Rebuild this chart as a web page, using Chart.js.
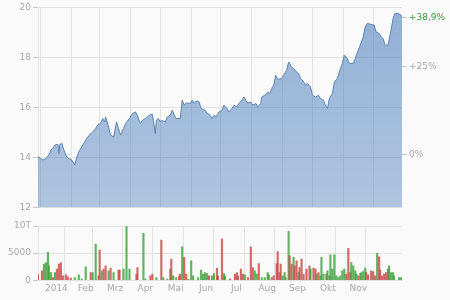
<!DOCTYPE html>
<html>
<head>
<meta charset="utf-8">
<script src="https://cdn.jsdelivr.net/npm/chart.js"></script>
<style>
  html, body { margin: 0; padding: 0; background: #fafafa; }
  #wrap { position: relative; width: 450px; height: 300px; overflow: hidden; }
  canvas { position: absolute; left: 0; }
  #price { top: 0; }
  #volume { top: 212px; }
</style>
</head>
<body>
<div id="wrap">
  <canvas id="price" width="450" height="215"></canvas>
  <canvas id="volume" width="450" height="88"></canvas>
</div>
<script>
// x values are days counted from 1 Jan 2014
const monthStarts = [0, 31, 59, 90, 120, 151, 181, 212, 243, 273, 304, 334];
const monthLabels = ['2014', 'Feb', 'Mrz', 'Apr', 'Mai', 'Jun', 'Jul', 'Aug', 'Sep', 'Okt', 'Nov'];

const priceDays = [-3, 2, 5, 8, 10, 12, 14, 17, 18, 19, 21, 23, 26, 28, 31, 34, 36, 38, 42, 45,
  49, 52, 55, 57, 60, 62, 64, 65, 68, 70, 73, 75, 76, 78, 80, 83, 85, 89, 92, 95,
  97, 99, 100, 102, 105, 109, 112, 113, 115, 116, 118, 120, 121, 125, 127, 130, 132, 134, 136, 140,
  142, 144, 146, 150, 152, 154, 156, 159, 161, 165, 167, 170, 172, 174, 176, 179, 182, 184, 187, 189,
  192, 194, 197, 199, 202, 204, 206, 208, 211, 213, 216, 218, 221, 222, 225, 228, 230, 232, 234, 236,
  238, 242, 245, 247, 249, 252, 254, 257, 259, 261, 263, 266, 268, 271, 273, 276, 279, 281, 284, 286,
  288, 290, 293, 295, 298, 300, 303, 305, 308, 310, 314, 316, 319, 321, 324, 326, 328, 332, 335, 337,
  340, 342, 344, 346, 349, 352, 354, 356, 359, 362, 363];
const prices = [14.04, 13.90, 13.96, 14.10, 14.30, 14.36, 14.50, 14.53, 14.16, 14.53, 14.56, 14.30, 14.02, 13.96, 13.90, 13.70, 14.02, 14.22, 14.50, 14.70,
  14.92, 15.02, 15.16, 15.30, 15.36, 15.56, 15.42, 15.62, 15.22, 14.90, 14.82, 15.22, 15.42, 15.16, 14.90, 15.16, 15.36, 15.56, 15.76, 15.82,
  15.69, 15.42, 15.36, 15.49, 15.56, 15.69, 15.73, 15.49, 14.96, 15.49, 15.56, 15.42, 15.49, 15.42, 15.62, 15.69, 15.89, 15.69, 15.56, 15.56,
  16.29, 16.09, 16.18, 16.16, 16.29, 16.16, 16.26, 16.22, 15.96, 15.89, 15.78, 15.69, 15.56, 15.69, 15.62, 15.82, 15.89, 16.09, 15.96, 15.82,
  15.96, 16.09, 16.02, 16.16, 16.29, 16.42, 16.29, 16.18, 16.22, 16.09, 16.16, 16.02, 16.16, 16.42, 16.49, 16.62, 16.56, 16.76, 16.89, 17.29,
  17.12, 17.16, 17.36, 17.49, 17.82, 17.62, 17.56, 17.42, 17.36, 17.16, 17.09, 16.89, 16.96, 16.82, 16.49, 16.42, 16.49, 16.36, 16.29, 16.09,
  15.96, 16.36, 16.56, 17.02, 17.16, 17.42, 17.76, 18.09, 17.96, 17.76, 17.76, 17.96, 18.29, 18.49, 18.82, 19.22, 19.36, 19.32, 19.29, 19.02,
  18.96, 18.82, 18.76, 18.49, 18.49, 19.09, 19.56, 19.76, 19.76, 19.69, 19.61];
const refPrice = 14.12;

const volumeDays = [-3, 1, 3, 5, 7, 8, 10, 12, 14, 16, 18, 20, 22, 25, 27, 30, 34, 38, 41, 45,
  50, 52, 55, 58, 59, 61, 63, 65, 68, 70, 73, 78, 79, 83, 86, 89, 96, 97, 103, 105,
  110, 112, 116, 121, 123, 127, 130, 131, 133, 136, 139, 140, 142, 144, 146, 148, 151, 153, 158, 161,
  163, 165, 167, 169, 172, 174, 177, 178, 182, 184, 185, 190, 195, 197, 198, 201, 203, 205, 208, 211,
  213, 215, 217, 219, 222, 225, 228, 229, 232, 234, 237, 238, 240, 241, 243, 245, 246, 249, 250, 252,
  254, 255, 257, 259, 260, 262, 264, 267, 270, 271, 274, 276, 277, 279, 281, 282, 284, 287, 288, 290,
  291, 293, 295, 297, 299, 301, 303, 305, 307, 309, 311, 312, 314, 316, 317, 319, 321, 322, 324, 326,
  327, 329, 332, 334, 336, 338, 340, 341, 343, 345, 347, 349, 350, 352, 354, 355, 360, 362];
const volumes = [990, 1730, 2960, 3270, 5120, 2650, 1420, 500, 1420, 2040, 2960, 3270, 800, 990, 620, 370, 490, 990, 185, 2470,
  1420, 1420, 6660, 800, 5550, 1730, 2040, 2650, 1730, 2220, 1420, 1850, 1850, 2040, 9870, 2040, 1110, 2340, 8640, 185,
  800, 1110, 500, 7400, 500, 185, 2040, 3890, 800, 500, 800, 1110, 6170, 4200, 1110, 185, 3580, 800, 500, 1850,
  1110, 1420, 1230, 800, 800, 1230, 2220, 800, 7590, 1230, 800, 185, 1110, 1420, 800, 2040, 1110, 990, 500, 6170,
  2340, 1730, 1110, 3080, 500, 500, 1420, 990, 500, 800, 3080, 5300, 1420, 2960, 800, 1420, 500, 9000, 4500, 2960,
  4200, 2650, 3580, 1420, 2340, 3890, 1110, 2040, 2650, 2040, 2220, 2040, 1110, 1420, 800, 4200, 1110, 1110, 1730, 800,
  4690, 2040, 4690, 800, 500, 800, 1730, 2040, 1110, 5860, 1420, 3270, 2650, 1730, 1110, 800, 1230, 1420, 1600, 2220,
  1420, 990, 1730, 1600, 800, 4940, 4320, 1850, 800, 1110, 1420, 2040, 2650, 1420, 1420, 800, 500, 500];
// 1 = up day (green), 0 = down day (red)
const volumeUp = [0, 0, 1, 1, 1, 1, 1, 0, 1, 0, 0, 0, 0, 0, 0, 0, 1, 1, 1, 1,
  0, 1, 1, 0, 0, 1, 0, 0, 1, 0, 1, 0, 0, 1, 1, 1, 0, 0, 1, 1,
  0, 0, 1, 0, 1, 1, 1, 0, 1, 1, 0, 0, 1, 0, 0, 1, 1, 1, 1, 1,
  1, 1, 1, 0, 1, 1, 0, 0, 0, 1, 1, 0, 0, 0, 0, 0, 0, 1, 0, 0,
  0, 1, 1, 0, 1, 1, 1, 1, 0, 0, 0, 0, 0, 0, 1, 1, 1, 1, 0, 0,
  1, 0, 0, 1, 0, 0, 0, 0, 0, 1, 0, 0, 1, 0, 1, 1, 1, 0, 1, 1,
  1, 1, 1, 1, 1, 1, 1, 1, 0, 0, 0, 1, 1, 1, 1, 0, 1, 1, 1, 1,
  0, 0, 0, 0, 0, 1, 0, 0, 0, 0, 0, 0, 1, 1, 1, 1, 1, 1];
const volumeTickLabels = ['0', '5000', '10T'];

const THEME = {
  grid: '#e2e2e2',
  tick: '#c8c8c8',
  text: '#a8a8a8',
  line: '#5b84b1',
  green: '#3c9a3c',
  up: 'rgba(60, 160, 60, 0.8)',
  down: 'rgba(200, 70, 70, 0.8)'
};
const FONT = { family: 'DejaVu Sans', size: 9 };
const X_MIN = -3, X_MAX = 363;

const midMonths = monthLabels.map((l, i) => (monthStarts[i] + monthStarts[i + 1]) / 2);
const lastPrice = prices[prices.length - 1];

function fixWidth(w) {
  return scale => { scale.width = w; };
}

function pctLabel(value) {
  const pct = (value / refPrice - 1) * 100;
  if (Math.abs(pct) < 0.05) return '0%';
  const txt = (Math.round(pct * 10) / 10).toString().replace('.', ',');
  return (pct > 0 ? '+' : '') + txt + '%';
}

new Chart(document.getElementById('price'), {
  type: 'line',
  data: {
    datasets: [{
      data: priceDays.map((d, i) => ({ x: d, y: prices[i] })),
      borderColor: THEME.line,
      borderWidth: 1,
      pointRadius: 0,
      tension: 0,
      fill: 'start',
      backgroundColor: c => {
        const a = c.chart.chartArea;
        if (!a) return 'rgba(80,130,190,0.5)';
        const g = c.chart.ctx.createLinearGradient(0, a.top, 0, a.bottom);
        g.addColorStop(0, 'rgba(80,130,190,0.62)');
        g.addColorStop(1, 'rgba(80,130,190,0.44)');
        return g;
      }
    }]
  },
  options: {
    responsive: false,
    animation: false,
    layout: { padding: { top: 2, bottom: 4, left: 0, right: 0 } },
    plugins: { legend: { display: false }, tooltip: { enabled: false } },
    scales: {
      x: {
        type: 'linear',
        min: X_MIN,
        max: X_MAX,
        afterBuildTicks: s => { s.ticks = monthStarts.map(v => ({ value: v })); },
        ticks: { display: false },
        grid: { color: THEME.grid, drawTicks: false },
        border: { display: false }
      },
      y: {
        min: 12,
        max: 20,
        afterFit: fixWidth(38),
        ticks: { stepSize: 2, color: THEME.text, font: FONT, padding: 2 },
        grid: { color: THEME.grid, tickLength: 5, tickColor: THEME.tick },
        border: { color: THEME.grid }
      },
      yr: {
        position: 'right',
        min: 12,
        max: 20,
        afterFit: fixWidth(48),
        afterBuildTicks: s => { s.ticks = [refPrice, refPrice * 1.25, lastPrice].map(v => ({ value: v })); },
        ticks: {
          color: c => c.index === 2 ? THEME.green : THEME.text,
          font: FONT,
          padding: 2,
          callback: v => pctLabel(v)
        },
        grid: { drawOnChartArea: false, tickLength: 5, color: THEME.tick },
        border: { display: false }
      }
    }
  }
});

new Chart(document.getElementById('volume'), {
  type: 'bar',
  data: {
    datasets: [{
      data: volumeDays.map((d, i) => ({ x: d, y: volumes[i] })),
      backgroundColor: volumeUp.map(u => u ? THEME.up : THEME.down),
      barThickness: 1.5,
      borderWidth: 0
    }]
  },
  options: {
    responsive: false,
    animation: false,
    layout: { padding: { top: 14, bottom: 3, left: 0, right: 48 } },
    plugins: { legend: { display: false }, tooltip: { enabled: false } },
    scales: {
      x: {
        type: 'linear',
        min: X_MIN,
        max: X_MAX,
        offset: false,
        afterBuildTicks: s => {
          s.ticks = monthStarts.concat(midMonths).sort((a, b) => a - b).map(v => ({ value: v }));
        },
        ticks: {
          autoSkip: false,
          maxRotation: 0,
          color: THEME.text,
          font: FONT,
          padding: 3,
          callback: v => {
            const i = midMonths.indexOf(v);
            return i >= 0 ? monthLabels[i] : '';
          }
        },
        grid: {
          color: c => c.tick && monthStarts.includes(c.tick.value) ? THEME.grid : 'transparent',
          drawTicks: false
        },
        border: { color: THEME.grid }
      },
      y: {
        min: 0,
        max: 10000,
        afterFit: fixWidth(38),
        ticks: {
          stepSize: 5000,
          color: THEME.text,
          font: FONT,
          padding: 2,
          callback: (v, i) => volumeTickLabels[i]
        },
        grid: { color: THEME.grid, tickLength: 5, tickColor: THEME.tick },
        border: { color: THEME.grid }
      }
    }
  }
});
</script>
</body>
</html>
